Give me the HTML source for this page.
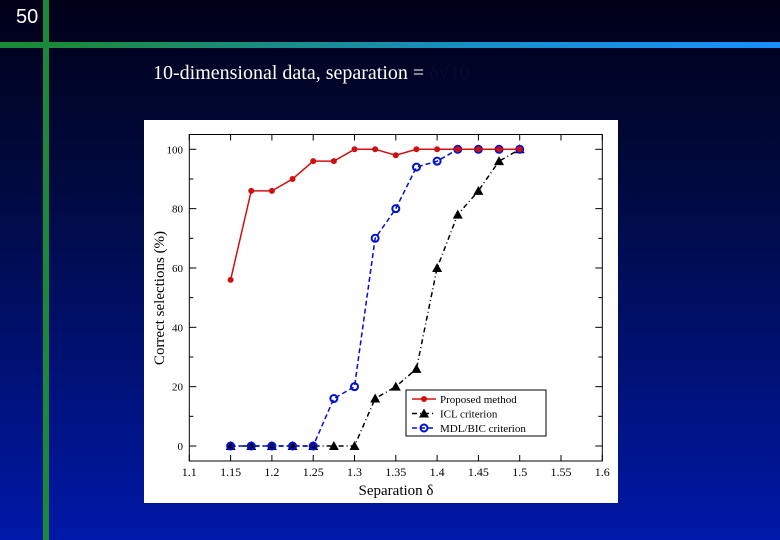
<!DOCTYPE html>
<html><head><meta charset="utf-8"><style>
body{margin:0;width:780px;height:540px;overflow:hidden;background:linear-gradient(to bottom,#000018 0%,#000a40 35%,#0018a8 100%);font-family:"Liberation Serif",serif;position:relative}
</style></head><body>
<div style="position:absolute;left:16px;top:6px;color:#fff;font:20px 'Liberation Sans',sans-serif">50</div>
<div style="position:absolute;left:43px;top:0;width:6px;height:540px;background:#1a8a3a"></div>
<div style="position:absolute;left:0;top:42px;width:780px;height:6px;background:linear-gradient(to right,#1a8a3a 0%,#1a8a3a 8%,#1890c8 60%,#1890ff 100%)"></div>
<div style="position:absolute;left:153px;top:62px;color:#fff;font-size:20px">10-dimensional data, separation = <span style="color:#0a0a30">δ√10</span></div>
<svg style="position:absolute;left:0;top:0" width="780" height="540">
<rect x="144" y="120" width="474" height="383" fill="#fff"/>
<g id="g"></g>
</svg>
<script>
const xs=[1.15,1.175,1.2,1.225,1.25,1.275,1.3,1.325,1.35,1.375,1.4,1.425,1.45,1.475,1.5];
const proposed=[56,86,86,90,96,96,100,100,98,100,100,100,100,100,100];
const icl=[0,0,0,0,0,0,0,16,20,26,60,78,86,96,100];
const mdl=[0,0,0,0,0,16,20,70,80,94,96,100,100,100,100];
const xTicks=[1.1,1.15,1.2,1.25,1.3,1.35,1.4,1.45,1.5,1.55,1.6];
const xTickLabels=["1.1","1.15","1.2","1.25","1.3","1.35","1.4","1.45","1.5","1.55","1.6"];
const yTicks=[0,20,40,60,80,100];
const NS="http://www.w3.org/2000/svg",g=document.getElementById('g');
const X=v=>189.3+(v-1.1)/0.5*413,Y=v=>446-v*2.967;
function el(t,a,n){const e=document.createElementNS(NS,t);for(const k in a)e.setAttribute(k,a[k]);g.appendChild(e);return e;}
el('rect',{x:189.3,y:134.5,width:413,height:326.5,fill:'none',stroke:'#000','stroke-width':1},'plot-frame');
xTicks.forEach((t,i)=>{const x=X(t);
el('line',{x1:x,x2:x,y1:461,y2:455,stroke:'#000'},'x-tick');
el('line',{x1:x,x2:x,y1:134.5,y2:140.5,stroke:'#000'},'x-tick-top');
const tx=el('text',{x:x,y:476,'font-size':12,'text-anchor':'middle',fill:'#000','font-family':'Liberation Serif'},'x-tick-label');tx.textContent=xTickLabels[i];});
for(let v=0;v<=100;v+=10){const y=Y(v),L=v%20?4:7;
el('line',{x1:189.3,x2:189.3+L,y1:y,y2:y,stroke:'#000'},'y-tick');
el('line',{x1:602.3,x2:602.3-L,y1:y,y2:y,stroke:'#000'},'y-tick-right');}
yTicks.forEach(v=>{const t=el('text',{x:183,y:Y(v)+4,'font-size':11,'text-anchor':'end',fill:'#000','font-family':'Liberation Serif'},'y-tick-label');t.textContent=v;});
let t=el('text',{x:396,y:495,'font-size':15,'text-anchor':'middle',fill:'#000','font-family':'Liberation Serif'},'x-axis-title');t.textContent='Separation  δ';
t=el('text',{x:0,y:0,'font-size':15,'text-anchor':'middle',fill:'#000','font-family':'Liberation Serif',transform:'translate(164,298) rotate(-90)'},'y-axis-title');t.textContent='Correct selections (%)';
function series(vals,color,dash,name,marker){
el('polyline',{points:xs.map((x,i)=>X(x)+','+Y(vals[i])).join(' '),fill:'none',stroke:color,'stroke-width':1.5,'stroke-dasharray':dash},name+'-line');
xs.forEach((x,i)=>marker(X(x),Y(vals[i]),name));}
const tri=(x,y,n)=>el('polygon',{points:`${x},${y-5} ${x-5},${y+4} ${x+5},${y+4}`,fill:'#000'},n+'-point');
const circ=(x,y,n)=>el('circle',{cx:x,cy:y,r:3.5,fill:'none',stroke:'#0010d0','stroke-width':2},n+'-point');
const dot=(x,y,n)=>el('circle',{cx:x,cy:y,r:3,fill:'#d01010'},n+'-point');
series(icl,'#000','5,3,1,3','icl',tri);
series(mdl,'#0010d0','5,3','mdl',circ);
series(proposed,'#d01010','','proposed',dot);
el('rect',{x:406,y:390,width:140,height:46,fill:'#fff',stroke:'#000'},'legend');
[['Proposed method','#d01010','',dot],['ICL criterion','#000','5,3,1,3',tri],['MDL/BIC criterion','#0010d0','5,3',circ]].forEach((e,i)=>{const y=399+i*14.5;
el('line',{x1:412,x2:436,y1:y,y2:y,stroke:e[1],'stroke-width':1.5,'stroke-dasharray':e[2]},'legend-line');e[3](424,y,'legend');
const tt=el('text',{x:440,y:y+4,'font-size':11,fill:'#000','font-family':'Liberation Serif'},'legend-entry');tt.textContent=e[0];});
</script>
</body></html>
